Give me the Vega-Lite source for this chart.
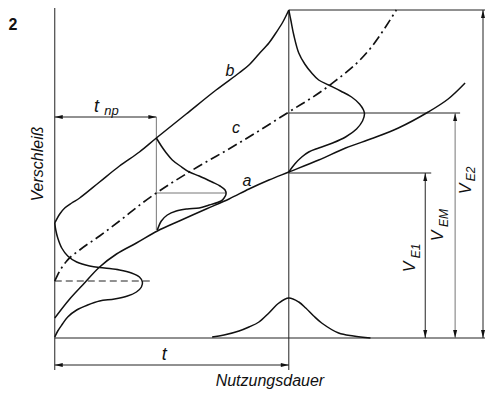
{
"$schema": "https://vega.github.io/schema/vega-lite/v6.json",
"width": 487, "height": 394,
"autosize": {"type": "fit", "contains": "padding"},
"padding": 0,
"background": "white",
"config": {"view": {"stroke": null}},
"datasets": {
"lines": [
{"id":"a","k":"curve","i":0,"x":0,"y":20},{"id":"a","k":"curve","i":1,"x":15,"y":39},{"id":"a","k":"curve","i":2,"x":28,"y":53},{"id":"a","k":"curve","i":3,"x":45,"y":71},{"id":"a","k":"curve","i":4,"x":62,"y":84},{"id":"a","k":"curve","i":5,"x":82,"y":95},{"id":"a","k":"curve","i":6,"x":103,"y":107},{"id":"a","k":"curve","i":7,"x":125,"y":117},{"id":"a","k":"curve","i":8,"x":152,"y":129},{"id":"a","k":"curve","i":9,"x":175,"y":139},{"id":"a","k":"curve","i":10,"x":195,"y":149},{"id":"a","k":"curve","i":11,"x":215,"y":158},{"id":"a","k":"curve","i":12,"x":235,"y":166},{"id":"a","k":"curve","i":13,"x":265,"y":178},{"id":"a","k":"curve","i":14,"x":292,"y":190},{"id":"a","k":"curve","i":15,"x":320,"y":200},{"id":"a","k":"curve","i":16,"x":345,"y":210},{"id":"a","k":"curve","i":17,"x":375,"y":226},{"id":"a","k":"curve","i":18,"x":395,"y":239},{"id":"a","k":"curve","i":19,"x":412,"y":255},
{"id":"b","k":"curve","i":0,"x":0,"y":115},{"id":"b","k":"curve","i":1,"x":5,"y":124},{"id":"b","k":"curve","i":2,"x":10,"y":130},{"id":"b","k":"curve","i":3,"x":17,"y":135},{"id":"b","k":"curve","i":4,"x":25,"y":140},{"id":"b","k":"curve","i":5,"x":45,"y":156},{"id":"b","k":"curve","i":6,"x":65,"y":172},{"id":"b","k":"curve","i":7,"x":85,"y":186},{"id":"b","k":"curve","i":8,"x":102,"y":200},{"id":"b","k":"curve","i":9,"x":132,"y":224},{"id":"b","k":"curve","i":10,"x":162,"y":248},{"id":"b","k":"curve","i":11,"x":185,"y":265},{"id":"b","k":"curve","i":12,"x":195,"y":273},{"id":"b","k":"curve","i":13,"x":205,"y":284},{"id":"b","k":"curve","i":14,"x":215,"y":295},{"id":"b","k":"curve","i":15,"x":222,"y":305},{"id":"b","k":"curve","i":16,"x":229,"y":316},{"id":"b","k":"curve","i":17,"x":235,"y":328},
{"id":"c","k":"dashdot","i":0,"x":0,"y":57},{"id":"c","k":"dashdot","i":1,"x":5,"y":67},{"id":"c","k":"dashdot","i":2,"x":12,"y":77},{"id":"c","k":"dashdot","i":3,"x":25,"y":88},{"id":"c","k":"dashdot","i":4,"x":45,"y":102},{"id":"c","k":"dashdot","i":5,"x":65,"y":117},{"id":"c","k":"dashdot","i":6,"x":88,"y":135},{"id":"c","k":"dashdot","i":7,"x":102,"y":145},{"id":"c","k":"dashdot","i":8,"x":135,"y":166},{"id":"c","k":"dashdot","i":9,"x":185,"y":195},{"id":"c","k":"dashdot","i":10,"x":235,"y":226},{"id":"c","k":"dashdot","i":11,"x":275,"y":252},{"id":"c","k":"dashdot","i":12,"x":318,"y":291},{"id":"c","k":"dashdot","i":13,"x":343,"y":328},
{"id":"bell0","k":"curve","i":0,"x":0,"y":115},{"id":"bell0","k":"curve","i":1,"x":1,"y":108},{"id":"bell0","k":"curve","i":2,"x":3,"y":100},{"id":"bell0","k":"curve","i":3,"x":7,"y":90},{"id":"bell0","k":"curve","i":4,"x":13,"y":82},{"id":"bell0","k":"curve","i":5,"x":22,"y":76},{"id":"bell0","k":"curve","i":6,"x":35,"y":72},{"id":"bell0","k":"curve","i":7,"x":50,"y":70},{"id":"bell0","k":"curve","i":8,"x":65,"y":68},{"id":"bell0","k":"curve","i":9,"x":77,"y":65},{"id":"bell0","k":"curve","i":10,"x":85,"y":61},{"id":"bell0","k":"curve","i":11,"x":88,"y":56},{"id":"bell0","k":"curve","i":12,"x":87,"y":51},{"id":"bell0","k":"curve","i":13,"x":82,"y":46},{"id":"bell0","k":"curve","i":14,"x":73,"y":42},{"id":"bell0","k":"curve","i":15,"x":60,"y":39},{"id":"bell0","k":"curve","i":16,"x":45,"y":37},{"id":"bell0","k":"curve","i":17,"x":33,"y":33},{"id":"bell0","k":"curve","i":18,"x":22,"y":28},{"id":"bell0","k":"curve","i":19,"x":13,"y":21},{"id":"bell0","k":"curve","i":20,"x":7,"y":13},{"id":"bell0","k":"curve","i":21,"x":3,"y":7},{"id":"bell0","k":"curve","i":22,"x":0,"y":1},
{"id":"bellnp","k":"curve","i":0,"x":102,"y":200},{"id":"bellnp","k":"curve","i":1,"x":107,"y":192},{"id":"bellnp","k":"curve","i":2,"x":112,"y":185},{"id":"bellnp","k":"curve","i":3,"x":118,"y":178},{"id":"bellnp","k":"curve","i":4,"x":126,"y":172},{"id":"bellnp","k":"curve","i":5,"x":135,"y":166},{"id":"bellnp","k":"curve","i":6,"x":145,"y":162},{"id":"bellnp","k":"curve","i":7,"x":158,"y":156},{"id":"bellnp","k":"curve","i":8,"x":166,"y":152},{"id":"bellnp","k":"curve","i":9,"x":171,"y":148},{"id":"bellnp","k":"curve","i":10,"x":172,"y":144},{"id":"bellnp","k":"curve","i":11,"x":170,"y":140},{"id":"bellnp","k":"curve","i":12,"x":167,"y":137},{"id":"bellnp","k":"curve","i":13,"x":155,"y":133},{"id":"bellnp","k":"curve","i":14,"x":145,"y":130},{"id":"bellnp","k":"curve","i":15,"x":133,"y":129},{"id":"bellnp","k":"curve","i":16,"x":122,"y":127},{"id":"bellnp","k":"curve","i":17,"x":113,"y":123},{"id":"bellnp","k":"curve","i":18,"x":107,"y":117},{"id":"bellnp","k":"curve","i":19,"x":103,"y":108},
{"id":"bellt","k":"curve","i":0,"x":235,"y":328},{"id":"bellt","k":"curve","i":1,"x":237,"y":318},{"id":"bellt","k":"curve","i":2,"x":240,"y":303},{"id":"bellt","k":"curve","i":3,"x":245,"y":285},{"id":"bellt","k":"curve","i":4,"x":251,"y":274},{"id":"bellt","k":"curve","i":5,"x":258,"y":265},{"id":"bellt","k":"curve","i":6,"x":265,"y":258},{"id":"bellt","k":"curve","i":7,"x":275,"y":253},{"id":"bellt","k":"curve","i":8,"x":287,"y":247},{"id":"bellt","k":"curve","i":9,"x":298,"y":241},{"id":"bellt","k":"curve","i":10,"x":306,"y":234},{"id":"bellt","k":"curve","i":11,"x":310,"y":228},{"id":"bellt","k":"curve","i":12,"x":311,"y":224},{"id":"bellt","k":"curve","i":13,"x":309,"y":217},{"id":"bellt","k":"curve","i":14,"x":303,"y":209},{"id":"bellt","k":"curve","i":15,"x":292,"y":201},{"id":"bellt","k":"curve","i":16,"x":279,"y":195},{"id":"bellt","k":"curve","i":17,"x":265,"y":190},{"id":"bellt","k":"curve","i":18,"x":255,"y":186},{"id":"bellt","k":"curve","i":19,"x":248,"y":181},{"id":"bellt","k":"curve","i":20,"x":241,"y":174},{"id":"bellt","k":"curve","i":21,"x":235,"y":166},
{"id":"bellbot","k":"curve","i":0,"x":158,"y":1},{"id":"bellbot","k":"curve","i":1,"x":170,"y":3},{"id":"bellbot","k":"curve","i":2,"x":185,"y":7},{"id":"bellbot","k":"curve","i":3,"x":195,"y":11},{"id":"bellbot","k":"curve","i":4,"x":205,"y":16},{"id":"bellbot","k":"curve","i":5,"x":215,"y":25},{"id":"bellbot","k":"curve","i":6,"x":225,"y":35},{"id":"bellbot","k":"curve","i":7,"x":235,"y":40},{"id":"bellbot","k":"curve","i":8,"x":245,"y":36},{"id":"bellbot","k":"curve","i":9,"x":252,"y":30},{"id":"bellbot","k":"curve","i":10,"x":260,"y":22},{"id":"bellbot","k":"curve","i":11,"x":268,"y":15},{"id":"bellbot","k":"curve","i":12,"x":285,"y":5},{"id":"bellbot","k":"curve","i":13,"x":300,"y":2},{"id":"bellbot","k":"curve","i":14,"x":317,"y":0},
{"id":"yaxis","k":"thin","i":0,"x":0,"y":330},{"id":"yaxis","k":"thin","i":1,"x":0,"y":-32},
{"id":"xaxis","k":"thin","i":0,"x":0,"y":0},{"id":"xaxis","k":"thin","i":1,"x":432,"y":0},
{"id":"tvert","k":"thin","i":0,"x":235,"y":328},{"id":"tvert","k":"thin","i":1,"x":235,"y":-32},
{"id":"top","k":"thin","i":0,"x":235,"y":328},{"id":"top","k":"thin","i":1,"x":432,"y":328},
{"id":"ve2","k":"thin","i":0,"x":430,"y":0},{"id":"ve2","k":"thin","i":1,"x":430,"y":328},
{"id":"vem","k":"gray","i":0,"x":402,"y":0},{"id":"vem","k":"gray","i":1,"x":402,"y":225},
{"id":"ve1","k":"thin","i":0,"x":372,"y":0},{"id":"ve1","k":"thin","i":1,"x":372,"y":165},
{"id":"ve1lvl","k":"thin","i":0,"x":235,"y":165},{"id":"ve1lvl","k":"thin","i":1,"x":378,"y":165},
{"id":"vemlvl","k":"thin","i":0,"x":235,"y":225},{"id":"vemlvl","k":"thin","i":1,"x":407,"y":225},
{"id":"tnpdim","k":"thin","i":0,"x":0,"y":221},{"id":"tnpdim","k":"thin","i":1,"x":102,"y":221},
{"id":"tnpvert","k":"gray","i":0,"x":102,"y":108},{"id":"tnpvert","k":"gray","i":1,"x":102,"y":221},
{"id":"h145","k":"gray","i":0,"x":102,"y":145},{"id":"h145","k":"gray","i":1,"x":172,"y":145},
{"id":"tdim","k":"thin","i":0,"x":0,"y":-27},{"id":"tdim","k":"thin","i":1,"x":235,"y":-27},
{"id":"dash","k":"dashed","i":0,"x":0,"y":57},{"id":"dash","k":"dashed","i":1,"x":98,"y":57}
],
"arrows": [
{"x":0,"y":221,"dir":"left"},{"x":102,"y":221,"dir":"right"},
{"x":0,"y":-27,"dir":"left"},{"x":235,"y":-27,"dir":"right"},
{"x":372,"y":165,"dir":"up"},{"x":372,"y":0,"dir":"down"},
{"x":402,"y":225,"dir":"up"},{"x":402,"y":0,"dir":"down"},
{"x":430,"y":328,"dir":"up"},{"x":430,"y":0,"dir":"down"}
],
"texts": [
{"x":-42,"y":313,"t":"2","r":"bold"},
{"x":110,"y":-17,"t":"t","r":"big"},
{"x":42,"y":231,"t":"t","r":"big"},
{"x":57,"y":227,"t":"np","r":"sub"},
{"x":193,"y":157,"t":"a","r":"main"},
{"x":176,"y":267,"t":"b","r":"main"},
{"x":182,"y":210,"t":"c","r":"main"},
{"x":216,"y":-43,"t":"Nutzungsdauer","r":"main"},
{"x":-17,"y":174,"t":"Verschleiß","r":"rot"},
{"x":357,"y":71,"t":"V","r":"rot"},
{"x":363,"y":87,"t":"E1","r":"rotsub"},
{"x":385,"y":102,"t":"V","r":"rot"},
{"x":391,"y":120,"t":"EM","r":"rotsub"},
{"x":413,"y":149,"t":"V","r":"rot"},
{"x":418,"y":164,"t":"E2","r":"rotsub"}
]
},
"encoding": {
"x": {"field": "x", "type": "quantitative", "scale": {"domain": [-55, 432], "nice": false, "zero": false}, "axis": null},
"y": {"field": "y", "type": "quantitative", "scale": {"domain": [-56, 338], "nice": false, "zero": false}, "axis": null}
},
"layer": [
{"data": {"name": "lines"}, "transform": [{"filter": "datum.k == 'thin'"}],
 "mark": {"type": "line", "stroke": "#222", "strokeWidth": 1},
 "encoding": {"detail": {"field": "id"}, "order": {"field": "i"}}},
{"data": {"name": "lines"}, "transform": [{"filter": "datum.k == 'gray'"}],
 "mark": {"type": "line", "stroke": "#777", "strokeWidth": 1},
 "encoding": {"detail": {"field": "id"}, "order": {"field": "i"}}},
{"data": {"name": "lines"}, "transform": [{"filter": "datum.k == 'dashed'"}],
 "mark": {"type": "line", "stroke": "#222", "strokeWidth": 1, "strokeDash": [7, 4]},
 "encoding": {"detail": {"field": "id"}, "order": {"field": "i"}}},
{"data": {"name": "lines"}, "transform": [{"filter": "datum.k == 'dashdot'"}],
 "mark": {"type": "line", "stroke": "#111", "strokeWidth": 1.7, "strokeDash": [10, 4, 2, 4], "interpolate": "monotone"},
 "encoding": {"detail": {"field": "id"}, "order": {"field": "i"}}},
{"data": {"name": "lines"}, "transform": [{"filter": "datum.k == 'curve'"}],
 "mark": {"type": "line", "stroke": "#111", "strokeWidth": 1.5, "interpolate": "catmull-rom"},
 "encoding": {"detail": {"field": "id"}, "order": {"field": "i"}}},
{"data": {"name": "arrows"},
 "mark": {"type": "point", "filled": true, "color": "#111", "opacity": 1, "size": 64},
 "encoding": {"shape": {"field": "dir", "type": "nominal", "legend": null,
   "scale": {"domain": ["left", "right", "up", "down"],
             "range": ["M0,0L2,-0.5L2,0.5Z", "M0,0L-2,-0.5L-2,0.5Z", "M0,0L-0.5,2L0.5,2Z", "M0,0L-0.5,-2L0.5,-2Z"]}}}},
{"data": {"name": "texts"}, "transform": [{"filter": "datum.r == 'main'"}],
 "mark": {"type": "text", "font": "Liberation Sans", "fontStyle": "italic", "fontSize": 16, "color": "#111", "align": "center", "baseline": "middle"},
 "encoding": {"text": {"field": "t"}}},
{"data": {"name": "texts"}, "transform": [{"filter": "datum.r == 'big'"}],
 "mark": {"type": "text", "font": "Liberation Sans", "fontStyle": "italic", "fontSize": 18, "color": "#111", "align": "center", "baseline": "middle"},
 "encoding": {"text": {"field": "t"}}},
{"data": {"name": "texts"}, "transform": [{"filter": "datum.r == 'sub'"}],
 "mark": {"type": "text", "font": "Liberation Sans", "fontStyle": "italic", "fontSize": 13, "color": "#111", "align": "center", "baseline": "middle"},
 "encoding": {"text": {"field": "t"}}},
{"data": {"name": "texts"}, "transform": [{"filter": "datum.r == 'bold'"}],
 "mark": {"type": "text", "font": "Liberation Sans", "fontWeight": "bold", "fontSize": 16, "color": "#111", "align": "center", "baseline": "middle"},
 "encoding": {"text": {"field": "t"}}},
{"data": {"name": "texts"}, "transform": [{"filter": "datum.r == 'rot'"}],
 "mark": {"type": "text", "font": "Liberation Sans", "fontStyle": "italic", "fontSize": 16, "color": "#111", "align": "center", "baseline": "middle", "angle": 270},
 "encoding": {"text": {"field": "t"}}},
{"data": {"name": "texts"}, "transform": [{"filter": "datum.r == 'rotsub'"}],
 "mark": {"type": "text", "font": "Liberation Sans", "fontStyle": "italic", "fontSize": 12, "color": "#111", "align": "center", "baseline": "middle", "angle": 270},
 "encoding": {"text": {"field": "t"}}}
]
}
